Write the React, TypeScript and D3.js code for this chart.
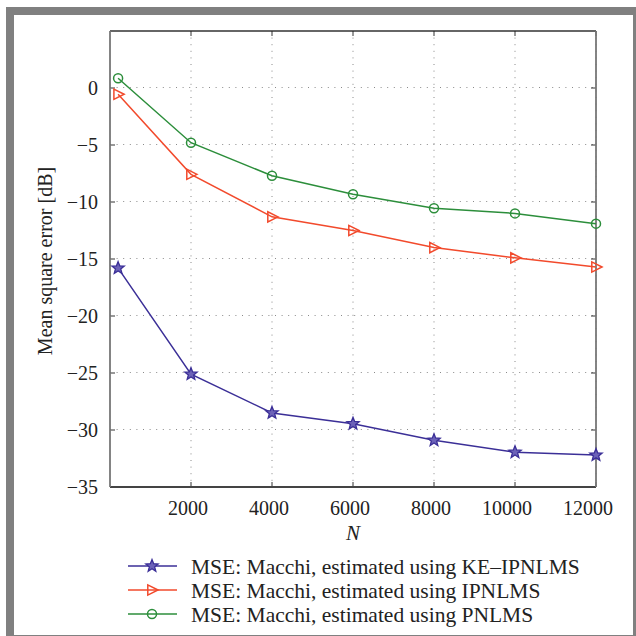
import React from "react";
import * as d3 from "d3";

const nValues = [200, 2000, 4000, 6000, 8000, 10000, 12000];
const keIpnlms = [-15.8, -25.1, -28.5, -29.45, -30.9, -31.95, -32.2];
const ipnlms = [-0.55, -7.57, -11.3, -12.5, -14.0, -14.9, -15.7];
const pnlms = [0.85, -4.8, -7.7, -9.32, -10.55, -11.0, -11.9];
const xTicks = [2000, 4000, 6000, 8000, 10000, 12000];
const yTicks = [0, -5, -10, -15, -20, -25, -30, -35];
const legendLabels = [
  "MSE: Macchi, estimated using KE\u2013IPNLMS",
  "MSE: Macchi, estimated using IPNLMS",
  "MSE: Macchi, estimated using PNLMS",
];

const BLUE = "#3b2f97";
const RED = "#f24a2c";
const GREEN = "#2c8e3b";
const FONT = "'Liberation Serif', 'Times New Roman', serif";

const L = 110, R = 596, T = 31, B = 487;

function starPath(cx: number, cy: number, ro: number, ri: number) {
  const pts: string[] = [];
  for (let i = 0; i < 10; i++) {
    const a = -Math.PI / 2 + (i * Math.PI) / 5;
    const r = i % 2 === 0 ? ro : ri;
    pts.push(`${cx + r * Math.cos(a)},${cy + r * Math.sin(a)}`);
  }
  return "M" + pts.join("L") + "Z";
}

function triPath(cx: number, cy: number, s: number) {
  return `M${cx + s},${cy}L${cx - s * 0.7},${cy - s * 0.85}L${cx - s * 0.7},${cy + s * 0.85}Z`;
}

function Marker({ kind, x, y, color }: { kind: string; x: number; y: number; color: string }) {
  if (kind === "star")
    return <path d={starPath(x, y, 6.5, 2.8)} fill="#6c62b8" stroke={color} strokeWidth={1.3} />;
  if (kind === "tri")
    return <path d={triPath(x, y, 6)} fill="none" stroke={color} strokeWidth={1.5} />;
  return <circle cx={x} cy={y} r={4.5} fill="none" stroke={color} strokeWidth={1.5} />;
}

export default function App() {
  const x = d3.scaleLinear().domain([0, 12000]).range([L, R]);
  const y = d3.scaleLinear().domain([-35, 5]).range([B, T]);
  const line = d3
    .line<[number, number]>()
    .x((d) => x(d[0]))
    .y((d) => y(d[1]));

  const series = [
    { vals: keIpnlms, color: BLUE, kind: "star" },
    { vals: ipnlms, color: RED, kind: "tri" },
    { vals: pnlms, color: GREEN, kind: "circ" },
  ];

  return (
    <svg
      width={636}
      height={636}
      style={{ position: "absolute", left: 0, top: 0 }}
      fontFamily={FONT}
    >
      <rect x={0} y={0} width={636} height={636} fill="#fff" />
      <rect x={6} y={7} width={630} height={629} fill="#808080" />
      <rect x={14} y={15} width={619} height={620} fill="#fff" />

      {/* grid */}
      {xTicks.map((t) => (
        <line
          key={"gx" + t}
          x1={x(t)}
          x2={x(t)}
          y1={T}
          y2={B}
          stroke="#8a8a8a"
          strokeWidth={1}
          strokeDasharray="1,5.6"
        />
      ))}
      {yTicks.map((t) => (
        <line
          key={"gy" + t}
          x1={L}
          x2={R}
          y1={y(t) - 0.5}
          y2={y(t) - 0.5}
          stroke="#8a8a8a"
          strokeWidth={1}
          strokeDasharray="1,5.6"
        />
      ))}

      {/* ticks */}
      {xTicks.map((t) => (
        <g key={"tx" + t}>
          <line x1={x(t)} x2={x(t)} y1={B} y2={B - 5} stroke="#333" strokeWidth={1} />
          <line x1={x(t)} x2={x(t)} y1={T} y2={T + 5} stroke="#333" strokeWidth={1} />
          <text
            x={x(t)}
            dx={t >= 10000 ? -8 : -3}
            y={515}
            textAnchor="middle"
            fontSize={20}
            fill="#222"
          >
            {t}
          </text>
        </g>
      ))}
      {yTicks.map((t) => (
        <g key={"ty" + t}>
          <line x1={L} x2={L + 5} y1={y(t)} y2={y(t)} stroke="#333" strokeWidth={1} />
          <line x1={R} x2={R - 5} y1={y(t)} y2={y(t)} stroke="#333" strokeWidth={1} />
          <text x={98} y={y(t) + 7} textAnchor="end" fontSize={20} fill="#222">
            {t < 0 ? "\u2212" + Math.abs(t) : t}
          </text>
        </g>
      ))}

      {/* axes box */}
      <line x1={L} x2={R} y1={T} y2={T} stroke="#333" strokeWidth={1.3} />
      <line x1={L} x2={R} y1={B} y2={B} stroke="#444" strokeWidth={1.8} />
      <line x1={L} x2={L} y1={T} y2={B} stroke="#777" strokeWidth={1.8} />
      <line x1={R} x2={R} y1={T} y2={B} stroke="#777" strokeWidth={1.8} />

      {/* series */}
      {series.map((s, i) => {
        const pts = nValues.map((n, j) => [n, s.vals[j]] as [number, number]);
        return (
          <g key={"s" + i}>
            <path d={line(pts) || ""} fill="none" stroke={s.color} strokeWidth={1.5} />
            {pts.map((p, j) => (
              <Marker key={j} kind={s.kind} x={x(p[0])} y={y(p[1])} color={s.color} />
            ))}
          </g>
        );
      })}

      {/* axis labels */}
      <text
        transform={`translate(52,${(T + B) / 2 + 2}) rotate(-90)`}
        textAnchor="middle"
        fontSize={20}
        fill="#222"
      >
        Mean square error [dB]
      </text>
      <text x={353} y={540} textAnchor="middle" fontSize={21} fontStyle="italic" fill="#222">
        N
      </text>

      {/* legend */}
      {series.map((s, i) => {
        const ly = 566 + i * 24;
        return (
          <g key={"lg" + i}>
            <line x1={128} x2={177} y1={ly} y2={ly} stroke={s.color} strokeWidth={1.5} />
            <Marker kind={s.kind} x={152} y={ly} color={s.color} />
            <text x={191} y={ly + 8} fontSize={21.5} fill="#222">
              {legendLabels[i]}
            </text>
          </g>
        );
      })}
    </svg>
  );
}
